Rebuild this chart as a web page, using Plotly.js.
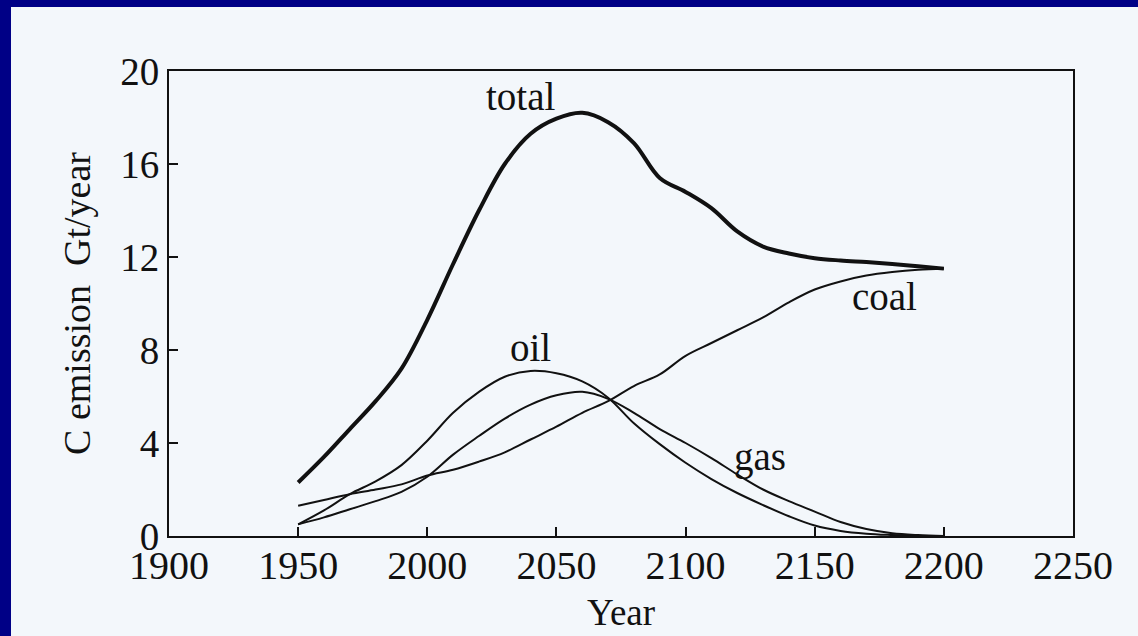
<!DOCTYPE html>
<html>
<head>
<meta charset="utf-8">
<script src="https://cdn.plot.ly/plotly-3.0.1.min.js"></script>
<style>
  html, body { margin: 0; padding: 0; background: #000086; width: 1138px; height: 636px; overflow: hidden; }
  #chart { position: absolute; left: 11px; top: 7px; width: 1127px; height: 629px; }
</style>
</head>
<body>
<div id="chart"></div>
<script>
// Data (Gt C per year)
const years = [1950,1960,1970,1980,1990,2000,2010,2020,2030,2040,2050,2060,2070,2080,2090,2100,2110,2120,2130,2140,2150,2160,2170,2180,2190,2200];
const total = [2.3,3.4,4.6,5.8,7.2,9.3,11.7,14.0,16.0,17.3,17.95,18.2,17.8,16.9,15.4,14.8,14.1,13.1,12.45,12.15,11.95,11.85,11.78,11.7,11.6,11.5];
const coal  = [1.3,1.55,1.8,2.0,2.22,2.6,2.85,3.2,3.6,4.15,4.7,5.3,5.8,6.45,6.95,7.75,8.3,8.85,9.4,10.05,10.6,10.95,11.2,11.35,11.45,11.5];
const oil   = [0.5,1.1,1.8,2.35,3.05,4.1,5.3,6.2,6.85,7.1,7.0,6.65,5.95,4.85,3.95,3.15,2.45,1.85,1.33,0.85,0.45,0.22,0.1,0.04,0.0,0.0];
const gas   = [0.5,0.8,1.15,1.5,1.9,2.55,3.5,4.3,5.05,5.65,6.05,6.2,5.9,5.3,4.6,4.0,3.35,2.65,2.0,1.5,1.05,0.6,0.3,0.12,0.04,0.0];

const seriesNames = ['total','coal','oil','gas'];
const labelX = [2036, 2177, 2040, 2129];
const labelY = [18.9, 10.3, 8.1, 3.4];

const xTicks = [1900,1950,2000,2050,2100,2150,2200,2250];
const yTicks = [0,4,8,12,16,20];

const serif = 'Liberation Serif, Times New Roman, serif';
const ink = '#111111';

function line(y, w, name) {
  return { x: years, y: y, name: name, type: 'scatter', mode: 'lines',
           line: { color: ink, width: w, shape: 'spline', smoothing: 1 },
           hoverinfo: 'x+y+name' };
}

const data = [
  line(total, 4, 'total'),
  line(coal, 2, 'coal'),
  line(oil, 2, 'oil'),
  line(gas, 2, 'gas')
];

const annotations = seriesNames.map((n, i) => ({
  x: labelX[i], y: labelY[i], xref: 'x', yref: 'y', text: n, showarrow: false,
  font: { family: serif, size: 39, color: ink }
}));

const layout = {
  width: 1127, height: 629,
  paper_bgcolor: '#f3f7fb', plot_bgcolor: '#f3f7fb',
  margin: { l: 158, r: 65, t: 64, b: 100 },
  showlegend: false,
  xaxis: {
    range: [1900, 2250], tickvals: xTicks, ticktext: xTicks.map(String),
    ticks: 'inside', ticklen: 9, tickwidth: 2, tickcolor: ink,
    showline: true, linecolor: ink, linewidth: 2, mirror: true,
    showgrid: false, zeroline: false,
    ticklabelstandoff: -7,
    tickfont: { family: serif, size: 40, color: ink },
    title: { text: 'Year', font: { family: serif, size: 37, color: ink }, standoff: 12 }
  },
  yaxis: {
    range: [0, 20], tickvals: yTicks, ticktext: yTicks.map(String),
    ticks: 'inside', ticklen: 9, tickwidth: 2, tickcolor: ink,
    showline: true, linecolor: ink, linewidth: 2, mirror: true,
    showgrid: false, zeroline: false,
    tickfont: { family: serif, size: 39, color: ink },
    title: { text: 'C emission&nbsp; Gt/year', font: { family: serif, size: 38, color: ink }, standoff: 18 }
  },
  annotations: annotations
};

Plotly.newPlot('chart', data, layout, { staticPlot: true });
</script>
</body>
</html>
